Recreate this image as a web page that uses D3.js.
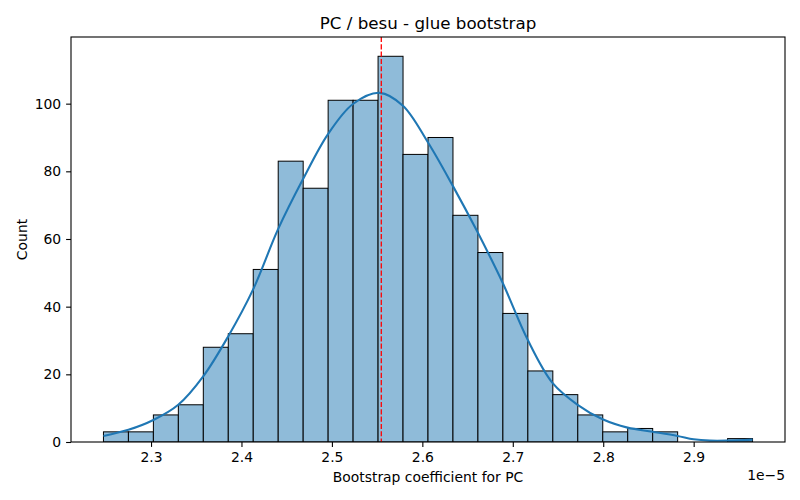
<!DOCTYPE html>
<html>
<head>
<meta charset="utf-8">
<script src="https://cdn.jsdelivr.net/npm/d3@7"></script>
<style>
  body { margin: 0; background: #fff; }
  text { font-family: "DejaVu Sans", sans-serif; fill: #000; }
</style>
</head>
<body>
<div id="chart"></div>
<script>
// Histogram of bootstrap coefficients (x in units of 1e-5)
const binStart = 2.2474;
const binEnd = 2.9651;
const binCounts = [3, 3, 8, 11, 28, 32, 51, 83, 75, 101, 101, 114, 85, 90, 67, 56, 38, 21, 14, 8, 3, 4, 3, 0, 0, 1];

// KDE curve (x in 1e-5, y in counts)
const kdeX = [2.2474, 2.275, 2.3026, 2.3301, 2.3577, 2.3853, 2.4129, 2.4405, 2.4681, 2.4957, 2.5233, 2.5528,
  2.5785, 2.6061, 2.6337, 2.6613, 2.6889, 2.7165, 2.7441, 2.7717, 2.7993, 2.8269, 2.8545, 2.8821, 2.9, 2.918, 2.937, 2.9651];
const kdeY = [1.8, 3.6, 6.5, 11.0, 19.4, 31.2, 45.1, 62.9, 77.7, 91.0, 99.9, 103.2,
  99.4, 88.6, 75.7, 61.9, 47.0, 30.2, 17.4, 11.0, 6.7, 4.25, 3.05, 1.8, 0.8, 0.4, 0.4, 0.7];

const meanValue = 2.5546;
const xTicks = [2.3, 2.4, 2.5, 2.6, 2.7, 2.8, 2.9];
const yTicks = [0, 20, 40, 60, 80, 100];

const width = 800;
const height = 500;
const margin = { top: 37, right: 15, bottom: 58, left: 71 };
const plotW = width - margin.left - margin.right;
const plotH = height - margin.top - margin.bottom;

const binW = (binEnd - binStart) / binCounts.length;
const bins = binCounts.map((c, i) => ({ x0: binStart + i * binW, x1: binStart + (i + 1) * binW, count: c }));

// matplotlib style 5% margins
const pad = (binEnd - binStart) * 0.05;
const x = d3.scaleLinear().domain([binStart - pad, binEnd + pad]).range([0, plotW]);
const y = d3.scaleLinear().domain([0, d3.max(binCounts) * 1.05]).range([plotH, 0]);

const svg = d3.select('#chart').append('svg')
  .attr('width', width)
  .attr('height', height);

const g = svg.append('g').attr('transform', `translate(${margin.left},${margin.top})`);

g.append('clipPath').attr('id', 'clip')
  .append('rect').attr('width', plotW).attr('height', plotH);

const plot = g.append('g').attr('clip-path', 'url(#clip)');

// bars
plot.selectAll('.bar')
  .data(bins.filter(d => d.count > 0))
  .enter().append('rect')
  .attr('class', 'bar')
  .attr('x', d => x(d.x0))
  .attr('y', d => y(d.count))
  .attr('width', d => x(d.x1) - x(d.x0))
  .attr('height', d => y(0) - y(d.count))
  .attr('fill', '#8fbbd9')
  .attr('stroke', '#000')
  .attr('stroke-width', 1);

// kde line
const kdePts = kdeX.map((v, i) => [v, kdeY[i]]);
plot.append('path')
  .datum(kdePts)
  .attr('fill', 'none')
  .attr('stroke', '#1f77b4')
  .attr('stroke-width', 2.1)
  .attr('d', d3.line().x(d => x(d[0])).y(d => y(d[1])).curve(d3.curveCatmullRom));

// mean line
plot.append('line')
  .attr('x1', x(meanValue)).attr('x2', x(meanValue))
  .attr('y1', 0).attr('y2', plotH)
  .attr('stroke', '#ff0000')
  .attr('stroke-width', 1.3)
  .attr('stroke-dasharray', '5.1,2.2');

// axes
const xAxis = g.append('g')
  .attr('transform', `translate(0,${plotH})`)
  .call(d3.axisBottom(x).tickValues(xTicks).tickFormat(d3.format('.1f')).tickSize(4.9).tickPadding(4.9));
const yAxis = g.append('g')
  .call(d3.axisLeft(y).tickValues(yTicks).tickFormat(d3.format('d')).tickSize(4.9).tickPadding(4.9));

[xAxis, yAxis].forEach(a => {
  a.select('.domain').remove();
  a.selectAll('.tick line').attr('stroke', '#000').attr('stroke-width', 1.1);
  a.selectAll('.tick text').attr('font-size', '13.9px').attr('font-family', '"DejaVu Sans", sans-serif').attr('fill', '#000');
});

// spines
g.append('rect')
  .attr('width', plotW).attr('height', plotH)
  .attr('fill', 'none')
  .attr('stroke', '#000')
  .attr('stroke-width', 1.1);

// title and labels
svg.append('text')
  .attr('x', margin.left + plotW / 2).attr('y', 28.7)
  .attr('text-anchor', 'middle').attr('font-size', '16.7px')
  .text('PC / besu - glue bootstrap');

svg.append('text')
  .attr('x', margin.left + plotW / 2).attr('y', 481.7)
  .attr('text-anchor', 'middle').attr('font-size', '13.9px')
  .text('Bootstrap coefficient for PC');

svg.append('text')
  .attr('transform', `translate(26.5,${margin.top + plotH / 2}) rotate(-90)`)
  .attr('text-anchor', 'middle').attr('font-size', '13.9px')
  .text('Count');

svg.append('text')
  .attr('x', margin.left + plotW).attr('y', 480)
  .attr('text-anchor', 'end').attr('font-size', '13.9px')
  .text('1e\u22125');
</script>
</body>
</html>
